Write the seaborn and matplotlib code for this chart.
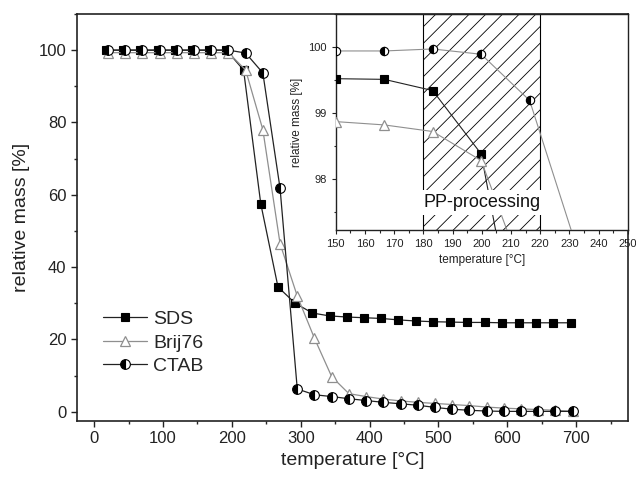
import numpy as np
import matplotlib
matplotlib.use("Agg")
import matplotlib.pyplot as plt
from matplotlib.ticker import MultipleLocator
import seaborn as sns

# main TGA curves (temperature in °C, relative mass in %)
temp_sds = [17 + 25 * k for k in range(28)]
temp_other = [20 + 25 * k for k in range(28)]
sds = [100, 100, 100, 100, 100, 100, 100, 100, 94.5, 57.5, 34.5, 30.0, 27.3, 26.5,
       26.2, 26.0, 25.8, 25.4, 25.1, 24.9, 24.8, 24.7, 24.7, 24.6, 24.6, 24.6, 24.6, 24.6]
brij = [99.3, 99.3, 99.3, 99.3, 99.3, 99.3, 99.3, 99.3, 94.5, 78.0, 46.5, 32.0, 20.3, 9.7,
        5.0, 4.2, 3.5, 3.0, 2.6, 2.3, 2.0, 1.7, 1.3, 1.0, 0.8, 0.6, 0.4, 0.1]
ctab = [100, 100, 100, 100, 100, 100, 100, 100, 99.2, 93.7, 61.8, 6.3, 4.7, 4.2,
        3.6, 3.1, 2.6, 2.2, 1.8, 1.2, 0.7, 0.4, 0.2, 0.1, 0.1, 0.1, 0.1, 0.1]

# inset (zoom 150-250 °C)
temp_in = [150, 166.6, 183.2, 199.8, 216.4, 233.0]
sds_in = [99.52, 99.51, 99.34, 98.38, 94.5]
brij_in = [98.87, 98.82, 98.72, 98.28, 96.3]
ctab_in = [99.94, 99.94, 99.97, 99.89, 99.19, 96.9]

sns.set_style("ticks")
plt.rcParams["font.family"] = ["Liberation Sans", "DejaVu Sans"]
plt.rcParams["hatch.linewidth"] = 0.6

gray = "#8f8f8f"
dark = "#222222"

fig = plt.figure(figsize=(6.36, 4.82), dpi=100)
ax = fig.add_axes([0.121, 0.127, 0.866, 0.844])
axin = fig.add_axes([0.528, 0.523, 0.459, 0.448])

# main plot
sns.lineplot(x=temp_sds, y=sds, ax=ax, label="SDS", color=dark, linewidth=0.9,
             marker="s", markersize=6, markerfacecolor="black", markeredgecolor="black",
             markeredgewidth=0.8)
sns.lineplot(x=temp_other, y=brij, ax=ax, label="Brij76", color=gray, linewidth=0.9,
             marker="^", markersize=7.5, markerfacecolor="white", markeredgecolor=gray,
             markeredgewidth=0.9)
sns.lineplot(x=temp_other, y=ctab, ax=ax, label="CTAB", color=dark, linewidth=0.9,
             marker="o", markersize=7, fillstyle="left", markerfacecolor="black",
             markerfacecoloralt="white", markeredgecolor="black", markeredgewidth=0.8)

ax.set_xticks(range(0, 800, 100))
ax.xaxis.set_minor_locator(MultipleLocator(50))
ax.yaxis.set_major_locator(MultipleLocator(20))
ax.yaxis.set_minor_locator(MultipleLocator(10))
ax.set_xlim(-25, 775)
ax.set_ylim(-2.5, 110)
ax.tick_params(which="major", direction="out", length=4, width=1, labelsize=12, colors="#222222")
ax.tick_params(which="minor", direction="out", length=2.5, width=1)
ax.set_xlabel("temperature [°C]", fontsize=14, color="#222222")
ax.set_ylabel("relative mass [%]", fontsize=14, color="#222222", labelpad=6)
for s in ax.spines.values():
    s.set_linewidth(1.2)
    s.set_color("#222222")

ax.legend(loc="upper left", bbox_to_anchor=(0.029, 0.295), frameon=False, fontsize=14,
          handlelength=2.3, handletextpad=0.3, labelspacing=0.3, borderpad=0)

# inset
axin.axvspan(180, 220, facecolor="none", edgecolor="black", hatch="//", linewidth=0.8, zorder=1)
sns.lineplot(x=temp_in[:5], y=sds_in, ax=axin, color=dark, linewidth=0.8, legend=False,
             marker="s", markersize=5.5, markerfacecolor="black", markeredgecolor="black",
             markeredgewidth=0.8, zorder=3)
sns.lineplot(x=temp_in[:5], y=brij_in, ax=axin, color=gray, linewidth=0.8, legend=False,
             marker="^", markersize=6.5, markerfacecolor="white", markeredgecolor=gray,
             markeredgewidth=0.9, zorder=3)
sns.lineplot(x=temp_in, y=ctab_in, ax=axin, color=gray, linewidth=0.8, legend=False,
             marker="o", markersize=6, fillstyle="left", markerfacecolor="black",
             markerfacecoloralt="white", markeredgecolor="black", markeredgewidth=0.8, zorder=3)
axin.text(200, 97.64, "PP-processing", ha="center", va="center", fontsize=13, zorder=5,
          color="#111111", bbox=dict(boxstyle="square,pad=0.22", facecolor="white", edgecolor="none"))

axin.set_xlim(150, 250)
axin.set_ylim(97.23, 100.5)
axin.xaxis.set_major_locator(MultipleLocator(10))
axin.xaxis.set_minor_locator(MultipleLocator(5))
axin.yaxis.set_major_locator(MultipleLocator(1))
axin.yaxis.set_minor_locator(MultipleLocator(0.5))
axin.tick_params(which="major", direction="out", length=3, width=0.8, labelsize=8, colors="#222222")
axin.tick_params(which="minor", direction="out", length=1.8, width=0.8)
axin.set_xlabel("temperature [°C]", fontsize=8.5, color="#222222")
axin.set_ylabel("relative mass [%]", fontsize=8.5, color="#222222")
for s in axin.spines.values():
    s.set_linewidth(1.0)
    s.set_color("#222222")

fig.savefig("out.png", dpi=100)
